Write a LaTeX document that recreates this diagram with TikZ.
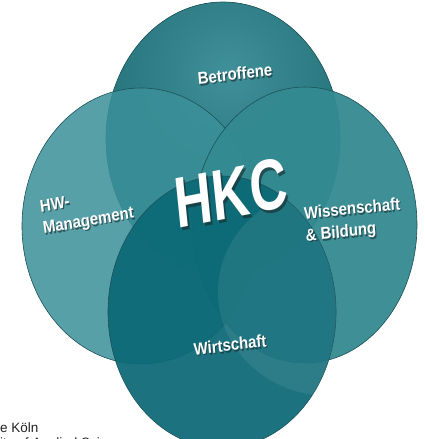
\documentclass[tikz,border=0pt]{standalone}
\usepackage{fontspec}
\setmainfont{Liberation Sans}
\usetikzlibrary{arrows.meta}
\definecolor{vtop}{HTML}{2A7880}
\definecolor{vtopl}{HTML}{40909A}
\definecolor{vleft}{HTML}{3A9099}
\definecolor{vright}{HTML}{348A91}
\definecolor{vbot}{HTML}{0B6976}
\definecolor{vedge}{HTML}{1C5257}
\definecolor{vshadow}{HTML}{1A2E30}
\definecolor{vfoot}{HTML}{222222}
\tikzset{
  disc/.style={draw=vedge,line width=0.6pt},
  lbl/.style={text=white,font=\fontsize{17}{22}\selectfont\bfseries,align=left,xscale=0.88},
  hkc/.style={text=white,font=\fontsize{72}{72}\selectfont\bfseries,xscale=0.72},
  shd/.style={text=vshadow,text opacity=0.65},
  foot/.style={text=vfoot,font=\fontsize{13.5}{15}\selectfont,anchor=base west,inner sep=0pt},
}
\begin{document}
\begin{tikzpicture}[x=1pt,y=-1pt]
  \clip (0,0) rectangle (424,439);
  \fill[white] (0,0) rectangle (424,439);
  % back disc with a soft glow
  \fill[vtop] (223,139) ellipse [x radius=117, y radius=137];
  \begin{scope}
    \clip (223,139) ellipse [x radius=117, y radius=137];
    \shade[inner color=vtopl,outer color=vtop] (228,72) circle (105);
  \end{scope}
  \draw[disc] (223,139) ellipse [x radius=117, y radius=137];
  % the three front discs
  \foreach \cx/\cy/\rx/\ry/\col/\op in {141/226/119/138/vleft/0.85,
      305/225/112/138/vright/0.95, 222/312/114/136/vbot/0.93}
    \filldraw[disc,fill=\col,fill opacity=\op] (\cx,\cy) ellipse [x radius=\rx, y radius=\ry];
  \begin{scope}
    \clip (222,312) ellipse [x radius=114, y radius=136];
    \fill[white,opacity=0.08] (330,292) ellipse [x radius=112, y radius=104];
  \end{scope}
  % labels
  \foreach \nm/\px/\py/\ang/\t in {betr/235/74/6/Betroffene, hw/87/211/9/{HW-\\Management},
      wiss/353/221/5/{Wissenschaft\\\& Bildung}, wirt/230/345/6/Wirtschaft} {
    \node[lbl,shd,rotate=\ang] (s\nm) at (\px+1.2,\py+1.6) {\t};
    \node[lbl,rotate=\ang] (\nm) at (\px,\py) {\t};
  }
  \node[hkc,shd,rotate=8] (shkc) at (233,196) {HKC};
  \node[hkc,rotate=8] (hkc) at (231,193) {HKC};
  % cut-off footer
  \node[foot] (koeln) at (0,432) {e Köln};
  \node[foot] (fhs) at (0,447) {ity of Applied Sciences};
\end{tikzpicture}
\end{document}
